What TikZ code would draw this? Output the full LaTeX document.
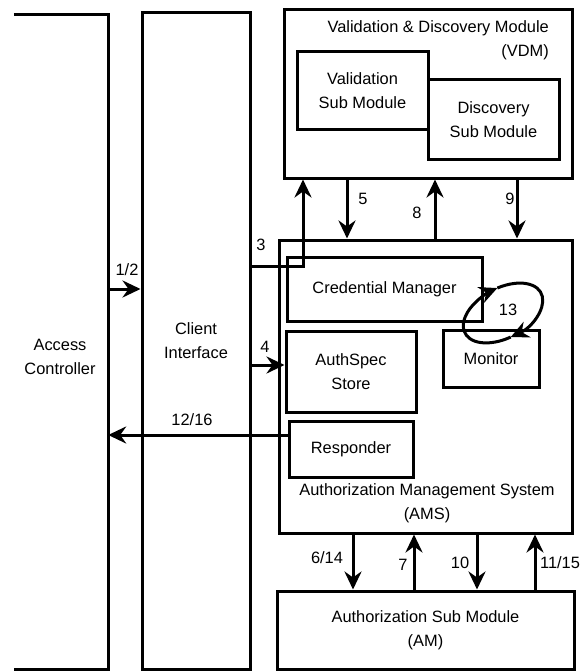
\documentclass[tikz,border=0pt]{standalone}
\usepackage{fontspec}
\setmainfont{Liberation Sans}
\usetikzlibrary{arrows.meta}

\begin{document}
\begin{tikzpicture}[x=1pt,y=-1pt,
  font=\fontsize{16.4}{24}\selectfont,
  box/.style={rectangle,draw,line width=3pt,inner sep=0pt,align=center},
  txt/.style={inner sep=0pt,align=center},
  arrow/.style={-{Stealth[length=18pt,width=17pt,inset=6pt]},line width=3pt}]
  \useasboundingbox (0,0) rectangle (585,671);
  % left columns
  \node[minimum width=94,minimum height=654,inner sep=0pt] (ac) at (61,342) {};
  \draw[line width=3pt] (ac.north west) -- (ac.north east) -- (ac.south east) -- (ac.south west);
  \node[txt] (actext) at (60,357) {Access\\Controller};
  \node[box,minimum width=108,minimum height=656] (ci) at (196,341) {Client\\Interface};
  % VDM
  \node[box,minimum width=288,minimum height=168] (vdm) at (428,94) {};
  \node[txt,align=right,anchor=east] (vdmtitle) at (549,40) {Validation \& Discovery Module\\(VDM)};
  \node[box,minimum width=131,minimum height=78] (vsub) at (362.5,91) {Validation\\Sub Module};
  \node[box,fill=white,minimum width=131,minimum height=80] (dsub) at (493.5,120) {Discovery\\Sub Module};
  % AMS
  \node[box,minimum width=293,minimum height=293] (ams) at (425.5,386.5) {};
  \node[txt] (amstitle) at (427,503) {Authorization Management System\\(AMS)};
  \node[box,minimum width=195,minimum height=64] (cm) at (384.5,289) {Credential Manager};
  \node[box,minimum width=130,minimum height=81] (spec) at (351,371.5) {AuthSpec\\Store};
  \node[box,minimum width=96,minimum height=57] (mon) at (491,358.5) {Monitor};
  \node[box,minimum width=124,minimum height=56] (resp) at (351,449) {Responder};
  % AM
  \node[box,minimum width=297,minimum height=78] (am) at (425.5,630) {Authorization Sub Module\\(AM)};
  % connectors
  \draw[arrow] (ac.east |- 0,289) -- (ci.west |- 0,289);
  \draw[arrow] (ci.east |- 0,266) -| (vdm.south -| 303,0);
  \draw[arrow] (ci.east |- 0,365) -- (spec.west |- 0,365);
  \draw[arrow] (vdm.south -| 347,0) -- (ams.north -| 347,0);
  \draw[arrow] (ams.north -| 435,0) -- (vdm.south -| 435,0);
  \draw[arrow] (vdm.south -| 517,0) -- (ams.north -| 517,0);
  \draw[arrow] (resp.west |- 0,435) -- (ac.east |- 0,435);
  \draw[arrow] (ams.south -| 353,0) -- (am.north -| 353,0);
  \draw[arrow] (am.north -| 414,0) -- (ams.south -| 414,0);
  \draw[arrow] (ams.south -| 477,0) -- (am.north -| 477,0);
  \draw[arrow] (am.north -| 535,0) -- (ams.south -| 535,0);
  % loop 13
  \begin{scope}[shift={(503,313)},rotate=28]
    \draw[arrow] (96:43 and 25) arc[start angle=96,end angle=279,x radius=43,y radius=25];
    \draw[arrow] (279:43 and 25) arc[start angle=279,end angle=456,x radius=43,y radius=25];
  \end{scope}
  % labels
  \node[txt] (l12) at (127,270) {1/2};
  \node[txt] (l3) at (261,245) {3};
  \node[txt] (l4) at (265,347) {4};
  \node[txt] (l5) at (363,199) {5};
  \node[txt] (l8) at (417,213) {8};
  \node[txt] (l9) at (510,199) {9};
  \node[txt] (l1216) at (192,420) {12/16};
  \node[txt] (l13) at (508,310) {13};
  \node[txt] (l614) at (327,558) {6/14};
  \node[txt] (l7) at (403,565) {7};
  \node[txt] (l10) at (460,563) {10};
  \node[txt] (l1115) at (560,563) {11/15};
\end{tikzpicture}
\end{document}
